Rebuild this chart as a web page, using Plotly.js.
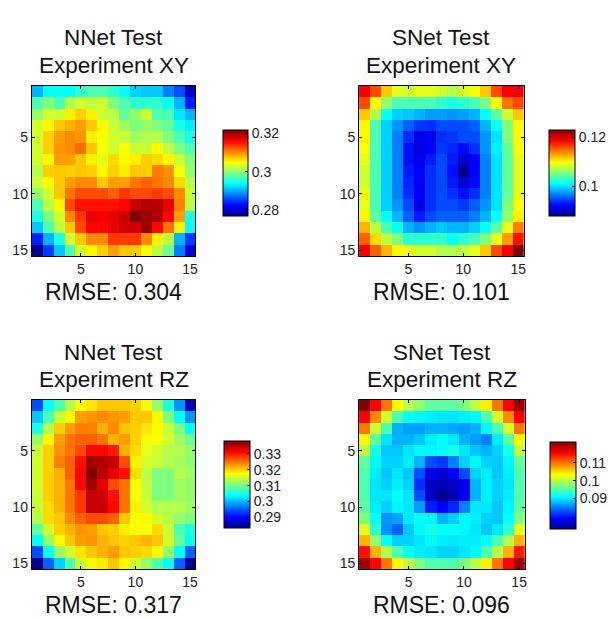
<!DOCTYPE html>
<html>
<head>
<meta charset="utf-8">
<script src="https://cdn.plot.ly/plotly-3.0.1.min.js"></script>
<style>
  html, body { margin: 0; padding: 0; background: #fff; }
  #chart { width: 612px; height: 619px; }
</style>
</head>
<body>
<div id="chart"></div>
<script>
// Grid cell indices (15 x 15 sensor grid) and axis ticks
const cellIdx = [1, 2, 3, 4, 5, 6, 7, 8, 9, 10, 11, 12, 13, 14, 15];
const axisTicks = [5, 10, 15];

// Per-cell test error, NNet, experiment XY (rows top to bottom)
const nnetXY = [
  [0.2903,0.2939,0.2939,0.2939,0.2957,0.2971,0.2971,0.2957,0.2939,0.2917,0.2912,0.2912,0.2880,0.2858,0.2795],
  [0.2971,0.2993,0.2971,0.3016,0.3029,0.3020,0.3029,0.2993,0.2971,0.2957,0.2957,0.2957,0.2939,0.2903,0.2836],
  [0.3002,0.3029,0.3029,0.3056,0.3070,0.3056,0.3025,0.3020,0.2980,0.3002,0.3025,0.2971,0.2971,0.2926,0.2903],
  [0.3029,0.3052,0.3074,0.3083,0.3092,0.3074,0.3052,0.3025,0.3007,0.2993,0.3002,0.2993,0.2980,0.2948,0.2930],
  [0.3029,0.3070,0.3092,0.3101,0.3097,0.3056,0.3047,0.3029,0.3025,0.3007,0.3016,0.3016,0.2993,0.2971,0.2948],
  [0.3029,0.3070,0.3097,0.3101,0.3115,0.3074,0.3047,0.3029,0.3047,0.3025,0.3029,0.3052,0.3020,0.2993,0.2971],
  [0.3029,0.3052,0.3092,0.3092,0.3074,0.3056,0.3038,0.3065,0.3052,0.3056,0.3070,0.3065,0.3052,0.3025,0.2993],
  [0.3016,0.3070,0.3074,0.3070,0.3074,0.3070,0.3052,0.3070,0.3056,0.3074,0.3070,0.3106,0.3097,0.3047,0.3002],
  [0.3025,0.3052,0.3074,0.3092,0.3101,0.3101,0.3074,0.3092,0.3092,0.3110,0.3119,0.3110,0.3101,0.3065,0.3020],
  [0.3002,0.3029,0.3074,0.3110,0.3128,0.3128,0.3128,0.3119,0.3137,0.3128,0.3128,0.3137,0.3128,0.3101,0.3025],
  [0.2971,0.3020,0.3052,0.3128,0.3155,0.3155,0.3155,0.3155,0.3164,0.3187,0.3196,0.3196,0.3173,0.3106,0.3020],
  [0.2948,0.2993,0.3029,0.3101,0.3137,0.3173,0.3164,0.3169,0.3187,0.3218,0.3205,0.3196,0.3160,0.3092,0.2948],
  [0.2912,0.2971,0.3020,0.3074,0.3128,0.3164,0.3160,0.3173,0.3182,0.3182,0.3205,0.3160,0.3110,0.3056,0.2939],
  [0.2836,0.2903,0.2948,0.3029,0.3074,0.3101,0.3101,0.3137,0.3137,0.3137,0.3101,0.3056,0.3020,0.2903,0.2849],
  [0.2768,0.2849,0.2912,0.2971,0.3029,0.3052,0.3070,0.3092,0.3074,0.3074,0.3052,0.3020,0.2984,0.2880,0.2813]
];

// Per-cell test error, SNet, experiment XY
const snetXY = [
  [0.1188,0.1160,0.1117,0.1089,0.1082,0.1089,0.1089,0.1082,0.1072,0.1082,0.1096,0.1117,0.1160,0.1188,0.1188],
  [0.1160,0.1100,0.1061,0.1036,0.1036,0.1036,0.1036,0.1026,0.1019,0.1026,0.1036,0.1054,0.1100,0.1146,0.1160],
  [0.1117,0.1072,0.1012,0.0994,0.0991,0.0984,0.0977,0.0977,0.0973,0.0977,0.0984,0.1012,0.1043,0.1079,0.1117],
  [0.1100,0.1036,0.0994,0.0973,0.0955,0.0941,0.0938,0.0948,0.0948,0.0948,0.0955,0.0984,0.1012,0.1054,0.1100],
  [0.1100,0.1036,0.0994,0.0966,0.0938,0.0913,0.0920,0.0938,0.0941,0.0948,0.0948,0.0973,0.1001,0.1054,0.1096],
  [0.1096,0.1036,0.0994,0.0966,0.0927,0.0910,0.0920,0.0941,0.0934,0.0924,0.0938,0.0973,0.1005,0.1043,0.1096],
  [0.1089,0.1036,0.0994,0.0966,0.0927,0.0913,0.0931,0.0948,0.0931,0.0906,0.0920,0.0966,0.1001,0.1043,0.1089],
  [0.1082,0.1036,0.0994,0.0966,0.0931,0.0920,0.0938,0.0948,0.0927,0.0878,0.0920,0.0966,0.1001,0.1043,0.1089],
  [0.1082,0.1036,0.0994,0.0966,0.0934,0.0920,0.0938,0.0948,0.0931,0.0906,0.0924,0.0966,0.1001,0.1043,0.1089],
  [0.1089,0.1036,0.0994,0.0966,0.0938,0.0920,0.0938,0.0948,0.0938,0.0927,0.0938,0.0966,0.1001,0.1043,0.1089],
  [0.1089,0.1036,0.0994,0.0973,0.0948,0.0913,0.0938,0.0948,0.0948,0.0941,0.0955,0.0973,0.1001,0.1054,0.1096],
  [0.1100,0.1043,0.1012,0.0984,0.0955,0.0931,0.0948,0.0955,0.0955,0.0955,0.0966,0.0984,0.1012,0.1061,0.1103],
  [0.1124,0.1075,0.1036,0.1012,0.0984,0.0973,0.0984,0.0991,0.0984,0.0984,0.0994,0.1012,0.1043,0.1089,0.1142],
  [0.1153,0.1110,0.1075,0.1054,0.1026,0.1026,0.1026,0.1026,0.1012,0.1026,0.1036,0.1054,0.1089,0.1131,0.1181],
  [0.1188,0.1153,0.1124,0.1100,0.1089,0.1082,0.1082,0.1072,0.1072,0.1075,0.1089,0.1117,0.1160,0.1188,0.1230]
];

// Per-cell test error, NNet, experiment RZ
const nnetRZ = [
  [0.2942,0.3041,0.3080,0.3135,0.3173,0.3190,0.3206,0.3206,0.3206,0.3201,0.3179,0.3118,0.3052,0.2981,0.2860],
  [0.3008,0.3080,0.3146,0.3179,0.3228,0.3234,0.3239,0.3234,0.3228,0.3206,0.3206,0.3179,0.3107,0.3041,0.2981],
  [0.3052,0.3135,0.3201,0.3228,0.3245,0.3245,0.3217,0.3239,0.3206,0.3201,0.3190,0.3179,0.3146,0.3107,0.3041],
  [0.3118,0.3179,0.3228,0.3250,0.3261,0.3261,0.3250,0.3217,0.3228,0.3201,0.3179,0.3173,0.3151,0.3124,0.3096],
  [0.3146,0.3201,0.3234,0.3250,0.3272,0.3311,0.3311,0.3300,0.3217,0.3195,0.3162,0.3151,0.3135,0.3135,0.3118],
  [0.3151,0.3201,0.3245,0.3261,0.3305,0.3366,0.3355,0.3344,0.3272,0.3184,0.3151,0.3146,0.3135,0.3124,0.3118],
  [0.3151,0.3201,0.3217,0.3261,0.3311,0.3382,0.3349,0.3327,0.3305,0.3195,0.3140,0.3107,0.3107,0.3135,0.3124],
  [0.3151,0.3201,0.3217,0.3250,0.3311,0.3366,0.3327,0.3272,0.3250,0.3173,0.3140,0.3107,0.3107,0.3124,0.3118],
  [0.3146,0.3201,0.3217,0.3250,0.3283,0.3344,0.3338,0.3305,0.3250,0.3173,0.3146,0.3107,0.3107,0.3124,0.3118],
  [0.3146,0.3195,0.3217,0.3250,0.3283,0.3344,0.3344,0.3311,0.3250,0.3184,0.3151,0.3135,0.3135,0.3135,0.3124],
  [0.3135,0.3195,0.3206,0.3239,0.3261,0.3272,0.3272,0.3261,0.3206,0.3173,0.3179,0.3151,0.3135,0.3118,0.3107],
  [0.3091,0.3151,0.3201,0.3217,0.3234,0.3228,0.3206,0.3201,0.3184,0.3173,0.3173,0.3195,0.3146,0.3080,0.3052],
  [0.3041,0.3118,0.3179,0.3206,0.3228,0.3234,0.3217,0.3206,0.3201,0.3206,0.3217,0.3206,0.3151,0.3096,0.3041],
  [0.2942,0.3041,0.3118,0.3151,0.3190,0.3206,0.3217,0.3228,0.3206,0.3201,0.3195,0.3179,0.3118,0.3041,0.2953],
  [0.2832,0.2953,0.3014,0.3080,0.3146,0.3179,0.3184,0.3206,0.3179,0.3151,0.3118,0.3080,0.3041,0.2953,0.2840]
];

// Per-cell test error, SNet, experiment RZ
const snetRZ = [
  [0.1218,0.1159,0.1100,0.1037,0.1002,0.0983,0.0958,0.0958,0.0958,0.0973,0.1007,0.1042,0.1100,0.1159,0.1203],
  [0.1159,0.1091,0.1012,0.0949,0.0914,0.0909,0.0904,0.0900,0.0900,0.0904,0.0909,0.0949,0.1012,0.1091,0.1159],
  [0.1100,0.1012,0.0949,0.0875,0.0865,0.0865,0.0875,0.0875,0.0870,0.0865,0.0875,0.0909,0.0949,0.1012,0.1100],
  [0.1037,0.0958,0.0900,0.0875,0.0875,0.0885,0.0904,0.0914,0.0900,0.0875,0.0865,0.0851,0.0904,0.0958,0.1037],
  [0.1002,0.0924,0.0885,0.0885,0.0900,0.0909,0.0909,0.0914,0.0924,0.0900,0.0885,0.0875,0.0890,0.0924,0.1002],
  [0.0958,0.0909,0.0890,0.0890,0.0904,0.0875,0.0826,0.0816,0.0851,0.0890,0.0909,0.0890,0.0885,0.0909,0.0958],
  [0.0949,0.0904,0.0885,0.0900,0.0885,0.0826,0.0777,0.0767,0.0787,0.0826,0.0890,0.0904,0.0885,0.0904,0.0949],
  [0.0949,0.0900,0.0890,0.0904,0.0890,0.0811,0.0757,0.0748,0.0757,0.0777,0.0875,0.0904,0.0890,0.0900,0.0949],
  [0.0949,0.0900,0.0900,0.0914,0.0900,0.0826,0.0762,0.0728,0.0743,0.0787,0.0875,0.0904,0.0890,0.0904,0.0949],
  [0.0958,0.0904,0.0890,0.0909,0.0900,0.0865,0.0802,0.0787,0.0806,0.0851,0.0900,0.0900,0.0885,0.0909,0.0958],
  [0.0973,0.0914,0.0860,0.0865,0.0900,0.0914,0.0909,0.0875,0.0890,0.0909,0.0904,0.0890,0.0885,0.0914,0.0973],
  [0.1022,0.0934,0.0860,0.0836,0.0885,0.0909,0.0924,0.0914,0.0914,0.0909,0.0900,0.0885,0.0900,0.0934,0.1022],
  [0.1071,0.0983,0.0914,0.0890,0.0890,0.0900,0.0909,0.0904,0.0900,0.0904,0.0904,0.0914,0.0949,0.0998,0.1071],
  [0.1149,0.1071,0.0998,0.0949,0.0914,0.0904,0.0900,0.0890,0.0890,0.0900,0.0909,0.0949,0.0998,0.1071,0.1145],
  [0.1203,0.1159,0.1100,0.1037,0.1002,0.0973,0.0949,0.0949,0.0949,0.0973,0.1002,0.1042,0.1100,0.1159,0.1203]
];

// Panel text
const titleLine1 = ['NNet Test', 'SNet Test', 'NNet Test', 'SNet Test'];
const titleLine2 = ['Experiment XY', 'Experiment XY', 'Experiment RZ', 'Experiment RZ'];
const rmseText = ['RMSE: 0.304', 'RMSE: 0.101', 'RMSE: 0.317', 'RMSE: 0.096'];

// Colorbar ticks
const cbTickVals = [[0.28, 0.3, 0.32], [0.1, 0.12], [0.29, 0.3, 0.31, 0.32, 0.33], [0.09, 0.1, 0.11]];
const cbTickText = [['0.28', '0.3', '0.32'], ['0.1', '0.12'], ['0.29', '0.3', '0.31', '0.32', '0.33'], ['0.09', '0.1', '0.11']];

const panelData = [nnetXY, snetXY, nnetRZ, snetRZ];

// ---- layout geometry (pixels) ----
const W = 612, H = 619;
const panelBox = [
  {l: 32, r: 197, t: 86, b: 256},
  {l: 362, r: 528, t: 86, b: 256},
  {l: 32, r: 197, t: 400, b: 569},
  {l: 362, r: 529, t: 400, b: 569}
];
const cbBox = [
  {l: 225, t: 130, len: 86, th: 25},
  {l: 554, t: 130, len: 86, th: 26},
  {l: 226, t: 441, len: 87, th: 26},
  {l: 555, t: 442, len: 87, th: 26}
];
const titleY = [[37, 65], [37, 65], [352, 380], [352, 380]];
const rmseY = [292, 292, 605, 605];

const FONT = 'Liberation Sans, Arial, Helvetica, sans-serif';
const jet = [
  [0, 'rgb(0,0,143)'], [0.125, 'rgb(0,0,255)'], [0.375, 'rgb(0,255,255)'],
  [0.625, 'rgb(255,255,0)'], [0.875, 'rgb(255,0,0)'], [1, 'rgb(128,0,0)']
];

const px = v => v / W;
const py = v => 1 - v / H;

const traces = [];
const layout = {
  width: W, height: H,
  margin: {l: 0, r: 0, t: 0, b: 0},
  paper_bgcolor: '#fff', plot_bgcolor: '#fff',
  font: {family: FONT, color: '#111'},
  showlegend: false,
  annotations: []
};

panelData.forEach((z, i) => {
  const n = i + 1;
  const xa = n === 1 ? 'x' : 'x' + n;
  const ya = n === 1 ? 'y' : 'y' + n;
  const box = panelBox[i], cb = cbBox[i];
  traces.push({
    type: 'heatmap',
    x: cellIdx, y: cellIdx, z: z,
    xaxis: xa, yaxis: ya,
    colorscale: jet,
    zsmooth: false,
    hoverinfo: 'x+y+z',
    colorbar: {
      x: px(cb.l), xanchor: 'left', xref: 'paper',
      y: py(cb.t), yanchor: 'top', yref: 'paper',
      len: cb.len, lenmode: 'pixels',
      thickness: cb.th, thicknessmode: 'pixels',
      xpad: 0, ypad: 0,
      outlinewidth: 1, outlinecolor: '#000',
      tickmode: 'array', tickvals: cbTickVals[i], ticktext: cbTickText[i],
      ticks: 'inside', ticklen: 3, tickcolor: '#000',
      tickfont: {family: FONT, size: 14, color: '#222'}
    }
  });
  const axCommon = {
    showgrid: false, zeroline: false,
    showline: true, linecolor: '#000', linewidth: 1, mirror: 'ticks',
    ticks: 'inside', ticklen: 3, tickcolor: '#000',
    tickmode: 'array', tickvals: axisTicks,
    tickfont: {family: FONT, size: 14, color: '#222'}
  };
  layout[n === 1 ? 'xaxis' : 'xaxis' + n] = Object.assign({}, axCommon, {
    domain: [px(box.l), px(box.r)], range: [0.5, 15.5],
    anchor: ya
  });
  layout[n === 1 ? 'yaxis' : 'yaxis' + n] = Object.assign({}, axCommon, {
    domain: [py(box.b), py(box.t)], range: [15.5, 0.5],
    anchor: xa
  });
  const cx = px((box.l + box.r) / 2);
  [titleLine1[i], titleLine2[i]].forEach((t, k) => {
    layout.annotations.push({
      text: t, xref: 'paper', yref: 'paper',
      x: cx, y: py(titleY[i][k]), xanchor: 'center', yanchor: 'middle',
      showarrow: false, font: {family: FONT, size: 22.5, color: '#111'}
    });
  });
  layout.annotations.push({
    text: rmseText[i], xref: 'paper', yref: 'paper',
    x: cx, y: py(rmseY[i]), xanchor: 'center', yanchor: 'middle',
    showarrow: false, font: {family: FONT, size: 23, color: '#111'}
  });
});

Plotly.newPlot('chart', traces, layout, {displayModeBar: false, staticPlot: true});
</script>
</body>
</html>
